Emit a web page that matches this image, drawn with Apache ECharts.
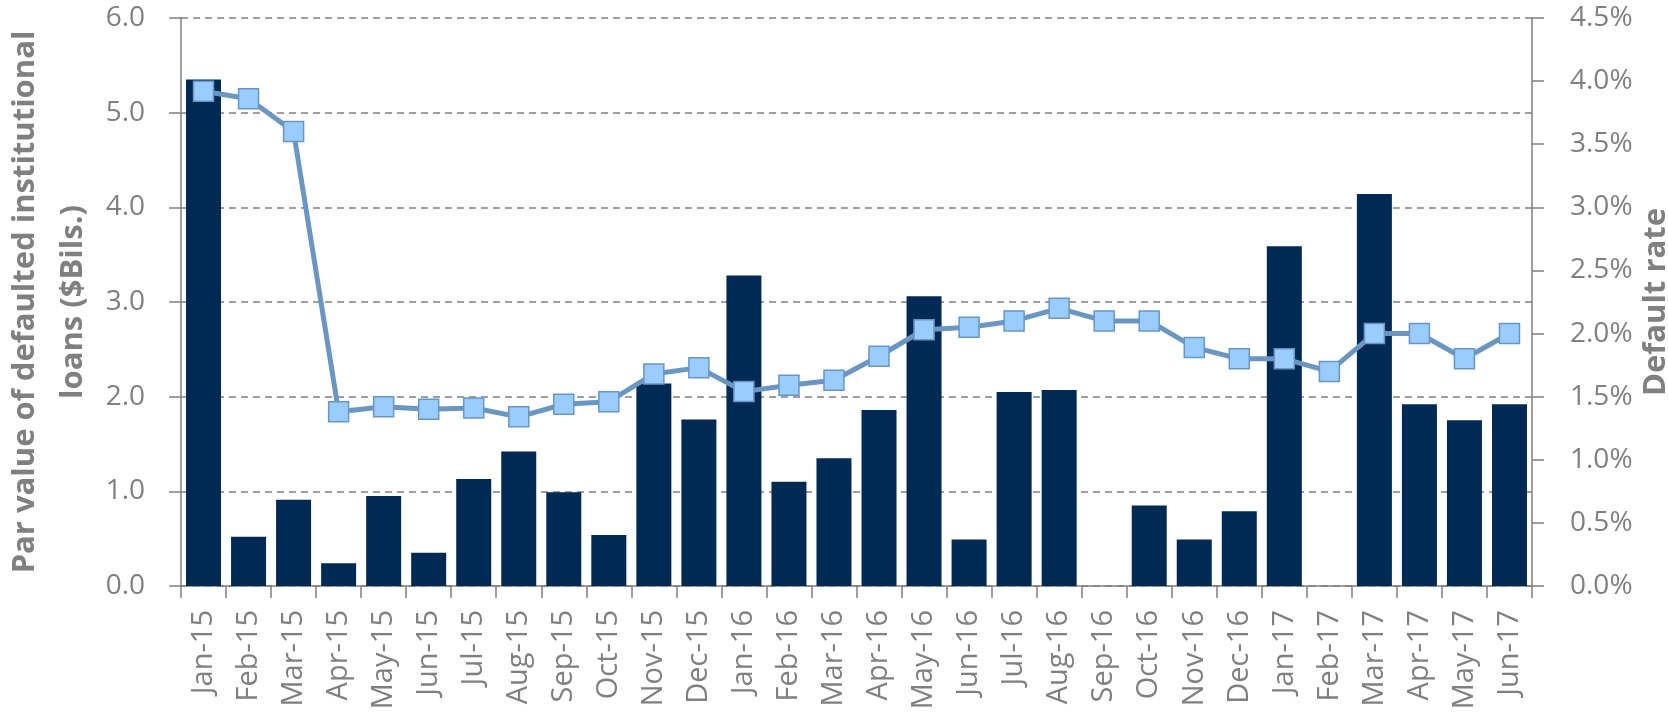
<!DOCTYPE html>
<html>
<head>
<meta charset="utf-8">
<script src="https://cdn.jsdelivr.net/npm/echarts@6/dist/echarts.min.js"></script>
<style>
  html, body { margin: 0; padding: 0; background: #fff; }
  #chart { width: 1668px; height: 724px; }
</style>
</head>
<body>
<div id="chart"></div>
<script>
// months along the x axis
const months = [
  "Jan-15", "Feb-15", "Mar-15", "Apr-15", "May-15", "Jun-15", "Jul-15", "Aug-15",
  "Sep-15", "Oct-15", "Nov-15", "Dec-15", "Jan-16", "Feb-16", "Mar-16", "Apr-16",
  "May-16", "Jun-16", "Jul-16", "Aug-16", "Sep-16", "Oct-16", "Nov-16", "Dec-16",
  "Jan-17", "Feb-17", "Mar-17", "Apr-17", "May-17", "Jun-17"
];

// par value of defaulted loans, $ billions
const parValue = [
  5.35, 0.52, 0.91, 0.24, 0.95, 0.35, 1.13, 1.42,
  0.99, 0.54, 2.14, 1.76, 3.28, 1.10, 1.35, 1.86,
  3.06, 0.49, 2.05, 2.07, 0, 0.85, 0.49, 0.79,
  3.59, 0, 4.14, 1.92, 1.75, 1.92
];

// default rate, percent
const defaultRate = [
  3.92, 3.86, 3.60, 1.38, 1.42, 1.40, 1.41, 1.34,
  1.44, 1.46, 1.68, 1.73, 1.54, 1.59, 1.63, 1.82,
  2.03, 2.05, 2.10, 2.20, 2.10, 2.10, 1.89, 1.80,
  1.80, 1.70, 2.00, 2.00, 1.80, 2.00
];

const grey = "#808080";
const fontFamily = "'Open Sans', 'Noto Sans', sans-serif";

const chart = echarts.init(document.getElementById("chart"));

chart.setOption({
  animation: false,
  textStyle: { fontFamily: fontFamily },
  grid: {
    left: 181,
    right: 136,
    top: 18,
    bottom: 138,
    outerBoundsMode: "none",
  },
  xAxis: {
    type: "category",
    data: months,
    boundaryGap: true,
    axisLine: { lineStyle: { color: grey, width: 1.5 } },
    axisTick: { show: true, length: 12, lineStyle: { color: grey, width: 1.5 } },
    axisLabel: {
      rotate: 90,
      interval: 0,
      margin: 24,
      color: grey,
      fontSize: 29,
      fontFamily: fontFamily,
    },
  },
  yAxis: [
    {
      type: "value",
      min: 0,
      max: 6,
      interval: 1,
      name: "Par value of defaulted institutional\nloans ($Bils.)",
      nameLocation: "middle",
      nameRotate: 90,
      nameGap: 84,
      nameMoveOverlap: false,
      nameTextStyle: {
        color: grey,
        fontSize: 31,
        fontWeight: "bold",
        lineHeight: 48,
        fontFamily: fontFamily,
      },
      axisLine: { show: true, lineStyle: { color: grey, width: 1.5 } },
      axisTick: { show: true, length: 12, lineStyle: { color: grey, width: 1.5 } },
      axisLabel: {
        color: grey,
        fontSize: 28,
        margin: 36,
        formatter: (v) => v.toFixed(1),
      },
      splitLine: {
        show: true,
        lineStyle: { color: grey, type: [7, 5], width: 1.5 },
      },
    },
    {
      type: "value",
      min: 0,
      max: 4.5,
      interval: 0.5,
      position: "right",
      name: "Default rate",
      nameLocation: "middle",
      nameRotate: 90,
      nameGap: 109,
      nameMoveOverlap: false,
      nameTextStyle: {
        color: grey,
        fontSize: 31,
        fontWeight: "bold",
        fontFamily: fontFamily,
      },
      axisLine: { show: true, lineStyle: { color: grey, width: 1.5 } },
      axisTick: { show: true, length: 12, lineStyle: { color: grey, width: 1.5 } },
      axisLabel: {
        color: grey,
        fontSize: 28,
        margin: 38,
        formatter: (v) => v.toFixed(1) + "%",
      },
      splitLine: { show: false },
    },
  ],
  series: [
    {
      name: "Par value",
      type: "bar",
      yAxisIndex: 0,
      data: parValue,
      barWidth: 35,
      itemStyle: { color: "#002A54" },
    },
    {
      name: "Default rate",
      type: "line",
      yAxisIndex: 1,
      data: defaultRate,
      symbol: "rect",
      symbolSize: 20,
      lineStyle: { color: "#6A96C4", width: 5 },
      itemStyle: {
        color: "#99CCFF",
        borderColor: "#6A96C4",
        borderWidth: 1.5,
      },
    },
  ],
});
</script>
</body>
</html>
